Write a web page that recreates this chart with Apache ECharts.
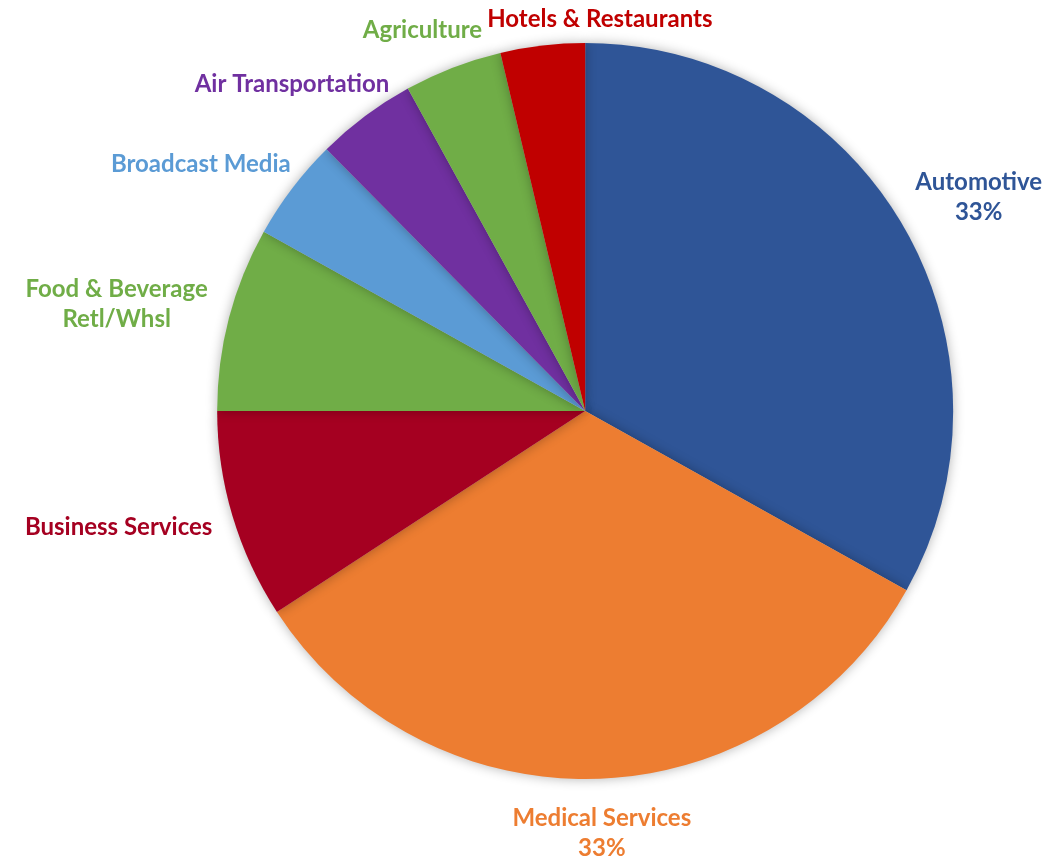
<!DOCTYPE html>
<html>
<head>
<meta charset="utf-8">
<script src="https://cdn.jsdelivr.net/npm/echarts@6/dist/echarts.min.js"></script>
<style>
html, body { margin: 0; padding: 0; background: #fff; }
#chart { width: 1062px; height: 858px; }
</style>
</head>
<body>
<div id="chart"></div>
<script>
// sectors, clockwise from 12 o'clock
const sectors = ['Automotive', 'Medical Services', 'Business Services', 'Food & Beverage\nRetl/Whsl',
	'Broadcast Media', 'Air Transportation', 'Agriculture', 'Hotels & Restaurants']
const shares = [33.1, 32.7, 9.2, 8.1, 4.5, 4.4, 4.3, 3.7]
const withPercent = ['Automotive', 'Medical Services']

const palette = ['#2F5597', '#ED7D31', '#A50021', '#70AD47', '#5B9BD5', '#7030A0', '#70AD47', '#C00000']

const CENTER = [0.551, 0.479]
const RADIUS = 368
const GAP = 25

const chart = echarts.init(document.getElementById('chart'))

// mid angle of each slice, clockwise from 12 o'clock (radians)
const total = shares.reduce((a, b) => a + b, 0)
let acc = 0
const midAngles = shares.map(v => {
	const mid = (acc + v / 2) / total * Math.PI * 2
	acc += v
	return mid
})

// Excel-like "outside end" placement: the label box touches a point just beyond the rim
let placed = []
const placeLabel = (params) => {
	if (params.dataIndex === 0) placed = []
	const cx = chart.getWidth() * CENTER[0]
	const cy = chart.getHeight() * CENTER[1]
	const a = midAngles[params.dataIndex]
	const dx = Math.sin(a), dy = -Math.cos(a)
	const w = params.labelRect.width, h = params.labelRect.height
	let x = cx + dx * (RADIUS + GAP) + dx * w / 2
	let y = cy + dy * (RADIUS + GAP) + dy * h / 2
	// keep inside the canvas
	if (y - h / 2 < 4) y = 4 + h / 2
	// push sideways away from an already placed label
	placed.forEach(r => {
		const overlapX = Math.abs(x - r.x) < (w + r.w) / 2
		const overlapY = Math.abs(y - r.y) < (h + r.h) / 2
		if (overlapX && overlapY) x = r.x + r.w / 2 + 5 + w / 2
	})
	placed.push({ x, y, w, h })
	return { x: x, y: y, align: 'center', verticalAlign: 'middle' }
}

const option = {
	animation: false,
	series: [{
		type: 'pie',
		center: [CENTER[0] * 100 + '%', CENTER[1] * 100 + '%'],
		radius: RADIUS,
		startAngle: 90,
		clockwise: true,
		avoidLabelOverlap: false,
		data: sectors.map((name, i) => ({
			name: name,
			value: shares[i],
			itemStyle: { color: palette[i] },
			label: { color: palette[i] }
		})),
		itemStyle: {
			shadowBlur: 12,
			shadowColor: 'rgba(0,0,0,0.3)'
		},
		label: {
			show: true,
			position: 'outside',
			fontFamily: 'Lato',
			fontWeight: 'bold',
			fontSize: 24,
			lineHeight: 30,
			formatter: (p) => withPercent.includes(p.name) ? p.name + '\n' + Math.round(p.percent) + '%' : p.name
		},
		labelLine: { show: false, length: 12, length2: 0 },
		labelLayout: placeLabel
	}]
}

chart.setOption(option)
</script>
</body>
</html>
